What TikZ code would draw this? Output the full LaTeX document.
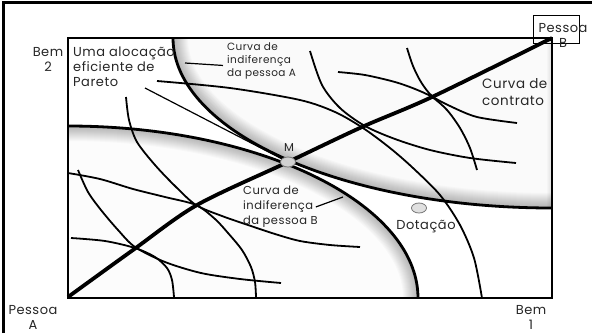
\documentclass[tikz,border=0pt]{standalone}
\usepackage{fontspec}
\setmainfont[LetterSpace=4]{Poppins}
\usetikzlibrary{shapes.geometric}
\begin{document}
\begin{tikzpicture}[x=1pt,y=-1pt]
        % Styles
        \tikzstyle{frame line}=[line width=3pt]
        \tikzstyle{box line}=[line width=1.6pt]
        \tikzstyle{indifference}=[line width=1.8pt]
        \tikzstyle{important line}=[line width=2.8pt]
        \tikzstyle{contract line}=[line width=3.8pt]
        \tikzstyle{soft shadow}=[opacity=0.02]
        \tikzstyle{allocation}=[ellipse,draw=black!55,fill=black!18,line width=0.8pt,minimum width=15pt,minimum height=10pt,inner sep=0pt]
        \tikzstyle{main text}=[font=\fontsize{13}{15}\selectfont,text=black!85,inner sep=0pt]
        \tikzstyle{big text}=[font=\fontsize{13.5}{17}\selectfont,text=black!85,inner sep=0pt,align=left]
        \tikzstyle{info text}=[font=\fontsize{11.5}{15}\selectfont,text=black!85,inner sep=0pt,align=left]
        \tikzstyle{small text}=[font=\fontsize{10.5}{13}\selectfont,text=black!85,inner sep=0pt,align=left]
        \def\curveA{(173,38) .. controls (173,132) and (343,208) .. (552,208)}
        \def\curveB{(68,126) .. controls (261,126) and (418,204) .. (418,298)}
        \useasboundingbox (0,0) rectangle (592,333);
        %frame
        \draw[frame line] (3,333) -- (3,2) -- (592,2);
        %shaded regions
        \fill[black!2] \curveA -- (552,38) -- cycle;
        \fill[black!1] \curveB -- (68,298) -- cycle;
        \begin{scope}
            \clip \curveA -- (552,38) -- cycle;
            \foreach \w in {2,4,...,30}
            \draw[soft shadow,line width=\w pt] \curveA;
            \foreach \w in {2,4,...,10}
            \draw[soft shadow,line width=\w pt] (552,38) -- (552,208);
        \end{scope}
        \begin{scope}
            \clip \curveB -- (68,298) -- cycle;
            \foreach \w in {2,4,...,30}
            \draw[soft shadow,line width=\w pt] \curveB;
        \end{scope}
        %indifference curves
        \draw[indifference] plot[smooth] coordinates {(310,51) (322,85) (340,108) (365,126) (395,139) (430,150) (470,158) (516,163)};
        \draw[indifference] plot[smooth] coordinates {(157,81) (230,88) (300,100) (335,112) (363,128) (390,148) (413,168) (440,195) (460,225) (474,258) (482,298)};
        \draw[indifference] plot[smooth] coordinates {(407,48) (413,66) (421,82) (432,96) (450,106) (477,117) (517,123)};
        \draw[indifference] plot[smooth] coordinates {(338,72) (365,75) (395,82) (415,89) (432,97) (447,110) (460,128) (470,148) (477,170)};
        \draw[indifference] plot[smooth] coordinates {(126,97) (129,120) (137,142) (155,165) (175,186) (196,205) (222,216) (248,225) (275,234) (300,241) (330,245) (360,247)};
        \draw[indifference] plot[smooth] coordinates {(68,173) (100,179) (133,189) (165,197) (196,205) (215,219) (228,233) (242,250) (251,267) (255,282) (256,297)};
        \draw[indifference] plot[smooth] coordinates {(78,170) (88,192) (101,210) (118,230) (135,247) (165,262) (201,273) (240,279) (281,283)};
        \draw[indifference] plot[smooth] coordinates {(71,238) (105,241) (135,248) (155,257) (167,268) (172,280) (174,297)};
        \draw[important line] \curveA;
        \draw[important line] \curveB;
        %contract curve
        \draw[contract line] plot[smooth,tension=0.5] coordinates {(68,297) (133,250) (197,205) (288,162) (362,127) (432,97) (552,38)};
        %box
        \draw[box line] (68,38) rectangle (552,298);
        \node[draw,line width=0.6pt,minimum width=46pt,minimum height=28pt,inner sep=0pt] (boxB) at (556,29) {};
        %points
        \node[allocation] (M) at (288,162) {};
        \node[allocation,fill=black!12] (endowment) at (419,208) {};
        %labels
        \node[main text,align=center,anchor=north] (bem2) at (48,47) {Bem\\2};
        \node[main text,align=center,anchor=north] (bem1) at (531,305) {Bem\\1};
        \node[main text,align=center,anchor=north] (pessoaA) at (33,305) {Pessoa\\A};
        \node[main text,align=center,anchor=north] (pessoaB) at (563,23) {Pessoa\\B};
        \node[main text,align=left,anchor=north west] (pareto) at (73,47) {Uma alocação\\eficiente de\\Pareto};
        \node[small text,anchor=north west] (curveAtext) at (227,43) {Curva de\\indiferença\\da pessoa A};
        \node[info text,anchor=north west] (curveBtext) at (243,186) {Curva de\\indiferença\\da pessoa B};
        \node[big text,anchor=north west] (contract) at (482,78) {Curva de\\contrato};
        \node[info text] (Mtext) at (289,148) {M};
        \node[main text] (endowmenttext) at (426,227) {Dotação};
        %pointers
        \coordinate (paretotip) at (145,88);
        \coordinate (Atip) at (185,63);
        \coordinate (Btip) at (343,197);
        \draw[line width=1.2pt] (paretotip) -- (M);
        \draw[line width=1.2pt] (Atip) -- ([xshift=-4pt,yshift=-4pt]curveAtext.west);
        \draw[line width=1.2pt] (Btip) -- ([xshift=-2pt]curveBtext.east);
    \end{tikzpicture}
\end{document}
